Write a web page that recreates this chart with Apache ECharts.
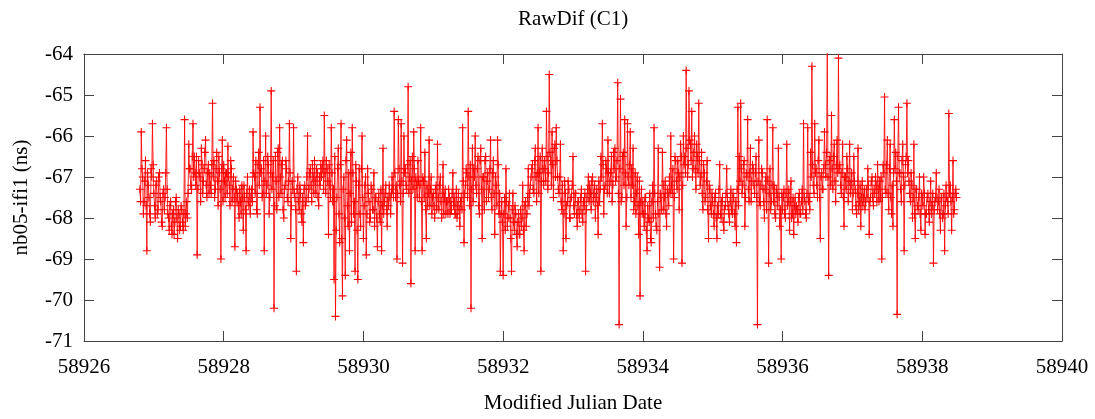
<!DOCTYPE html>
<html>
<head>
<meta charset="utf-8">
<script src="https://cdn.jsdelivr.net/npm/echarts@6/dist/echarts.min.js"></script>
<style>
html,body{margin:0;padding:0;background:#fff;}
#chart{width:1095px;height:419px;}
</style>
</head>
<body>
<div id="chart"></div>
<script>
const chartTitle = 'RawDif (C1)';
const xAxisName = 'Modified Julian Date';
const yAxisName = 'nb05-ifi1 (ns)';
const xMin = 58926, xMax = 58940, xInterval = 2;
const yMin = -71, yMax = -64, yInterval = 1;
const mjdStart = 58926.80;
const mjdStep = 0.02;
// samples at mjdStart + i*mjdStep
const rawDifA = [
-67.3,-65.9,-67.0,-67.6,-66.6,-68.8,-67.2,-67.9,-66.8,-65.7,
-67.4,-68.0,-67.1,-67.8,-66.9,-67.6,-68.2,-67.3,-67.5,-65.8,
-67.9,-68.3,-67.6,-68.4,-67.8,-68.1,-67.5,-68.5,-67.9,-68.2,
-67.8,-68.3,-65.6,-67.9,-68.0,-66.2,-66.8,-67.3,-65.7,-66.5,
-67.2,-68.9,-66.6,-67.0,-66.3,-67.4,-66.8,-66.1,-67.5,-66.7,
-66.9,-67.4,-65.2,-66.6,-67.3,-66.4,-67.7,-66.9,-69.0,-66.1,
-66.7,-67.5,-66.9,-66.25,-67.2,-66.6,-67.6,-67.0,-68.7,-67.3,
-67.4,-68.0,-67.6,-67.2,-68.3,-67.5,-68.8,-67.0,-67.7,-67.9,
-67.3,-65.9,-67.0,-66.6,-67.9,-66.4,-65.3,-66.8,-67.4,-68.8,
-66.0,-67.2,-66.7,-67.5,-64.9,-67.0,-70.2,-66.5,-67.8,-66.3,
-65.8,-67.4,-66.6,-68.0,-67.2,-66.8,-67.6,-65.7,-68.5,-67.1,
-65.8,-67.5,-69.3,-67.0,-67.8,-67.4,-68.1,-68.6,-67.2,-67.6,
-66.0,-67.3,-66.8,-67.6,-67.0,-66.6,-67.4,-66.9,-67.7,-67.2,
-67.0,-66.6,-65.5,-67.4,-66.8,-68.4,-67.2,-65.8,-67.6,-69.5,
-70.4,-67.5,-66.3,-68.6,-65.7,-69.9,-67.0,-69.4,-66.1,-68.2,
-68.8,-66.4,-65.8,-67.9,-69.3,-67.1,-69.5,-66.8,-68.2,-66.0,
-68.5,-67.2,-68.9,-66.8,-67.6,-68.0,-67.3,-67.8,-68.2,-67.5,
-68.7,-67.4,-68.1,-68.8,-66.3,-67.6,-67.2,-68.2,-67.7,-67.5,
-67.4,-67.3,-65.4,-67.5,-69.0,-65.6,-67.2,-65.7,-69.1,-66.0,
-66.8,-67.3,-64.8,-67.0,-69.6,-66.5,-65.9,-68.8,-67.2,-66.6,
-67.5,-65.8,-68.8,-67.1,-66.4,-68.5,-67.7,-66.1,-67.3,-67.9,
-67.4,-68.0,-67.2,-66.2,-67.8,-67.0,-68.0,-66.7,-67.5,-67.9,
-67.6,-67.3,-67.9,-67.8,-66.9,-67.5,-67.9,-68.0,-67.4,-68.2,
-67.5,-65.8,-68.6,-67.2,-66.9,-65.4,-67.7,-70.2,-66.3,-66.8,
-66.0,-67.4,-66.5,-67.9,-66.3,-68.5,-67.0,-66.6,-67.6,-66.9,
-67.3,-66.1,-67.8,-66.6,-68.4,-67.2,-66.1,-67.9,-69.3,-67.6,
-69.4,-67.5,-66.8,-68.2,-67.7,-68.0,-69.3,-67.4,-68.3,-67.9,
-68.7,-67.9,-68.4,-68.2,-67.2,-68.8,-67.6,-67.9,-66.8,-67.4,
-67.0,-66.7,-67.4,-66.3,-67.6,-65.8,-66.9,-69.3,-66.3,-67.2,
-66.8,-65.4,-67.3,-64.5,-66.6,-65.9,-67.5,-66.2,-65.8,-67.0,
-67.4,-66.2,-67.8,-68.8,-67.1,-68.5,-67.6,-67.3,-68.0,-67.5,
-66.5,-67.9,-67.4,-68.2,-67.6,-67.8,-67.3,-68.1,-67.7,-69.3,
-67.5,-67.0,-67.2,-67.8,-67.0,-67.4,-68.0,-67.3,-68.4,-67.6,
-66.5,-65.7,-67.9,-67.2,-66.8,-66.1,-67.4,-66.9,-67.6,-66.4,
-66.3,-67.0,-64.7,-70.6,-65.1,-67.5,-66.4,-65.6,-68.2,-65.7,
-67.2,-65.9,-66.8,-66.3,-67.6,-67.9,-67.0,-68.4,-69.9,-67.3,
-67.6,-68.2,-67.5,-68.8,-68.0,-67.4,-68.6,-67.2,-65.8,-67.9,
-68.3,-66.3,-69.2,-67.5,-66.4,-67.8,-67.1,-68.2,-67.4,-67.0,
-66.0,-67.4,-69.0,-66.5,-67.1,-66.6,-67.8,-66.2,-69.1,-66.0,
-66.5,-64.4,-67.0,-64.9,-66.2,-65.4,-66.8,-66.0,-67.3,-66.5,
-65.2,-67.2,-66.4,-67.8,-66.9,-67.5,-66.6,-68.5,-67.3,-67.9,
-67.6,-68.2,-67.4,-68.5,-67.9,-66.7,-68.0,-67.5,-68.3,-67.7,
-66.8,-67.7,-68.1,-67.3,-67.9,-67.5,-68.2,-68.6,-65.3,-66.5,
-65.2,-67.4,-66.7,-68.2,-66.9,-65.6,-67.6,-66.3,-67.1,-66.8,
-67.4,-66.5,-70.6,-66.1,-67.7,-66.8,-67.3,-68.0,-67.0,-65.6,
-69.1,-66.8,-67.6,-65.8,-67.2,-68.0,-67.4,-66.3,-68.2,-69.0,
-67.8,-67.3,-68.0,-66.2,-67.6,-68.3,-67.1,-67.9,-68.4,-67.5,
-67.7,-68.1,-67.4,-67.9,-67.3,-65.7,-67.6,-68.0,-65.8,-67.5,
-66.4,-64.3,-67.2,-65.7,-66.8,-67.5,-66.1,-68.5,-66.9,-67.3,
-65.9,-67.0,-63.95,-69.4,-66.5,-65.5,-67.3,-66.2,-67.6,-66.1,
-64.1,-66.7,-67.4,-66.2,-68.2,-67.0,-66.5,-67.6,-66.2,-67.2,
-67.8,-66.5,-67.3,-67.9,-66.3,-67.6,-68.2,-67.1,-67.5,-67.8,
-67.3,-66.8,-68.4,-67.5,-67.0,-67.7,-67.4,-67.2,-66.7,-67.6,
-67.5,-69.0,-66.7,-65.05,-67.4,-66.1,-67.8,-66.2,-67.9,-68.2,
-65.6,-66.4,-70.35,-65.3,-66.9,-67.6,-66.2,-68.8,-66.7,-65.2,
-66.6,-67.4,-66.9,-68.0,-66.2,-68.5,-67.3,-67.8,-67.0,-68.3,
-67.5,-67.0,-68.4,-67.9,-67.4,-68.1,-67.1,-67.7,-69.1,-67.6,
-66.9,-67.8,-67.3,-68.3,-67.5,-67.9,-68.8,-67.2,-67.6,-65.45,
-67.2,-68.3,-66.6,-67.8,-67.3
];
// samples at mjdStart + i*mjdStep + mjdStep/2
const rawDifB = [
-67.6,-66.8,-67.9,-67.1,-67.7,-66.9,-67.5,-68.1,-67.0,-66.7,
-67.7,-67.2,-67.9,-67.0,-67.5,-68.1,-67.4,-67.8,-66.9,-67.3,
-68.0,-67.7,-68.2,-67.9,-68.4,-67.6,-68.0,-67.8,-68.3,-67.7,
-68.1,-67.9,-68.2,-67.6,-67.4,-66.8,-67.2,-66.5,-67.0,-66.9,
-66.5,-67.3,-66.9,-67.6,-66.7,-67.1,-66.4,-67.2,-66.9,-67.4,
-67.2,-66.7,-67.0,-67.5,-66.8,-67.1,-66.5,-67.3,-66.8,-67.6,
-67.1,-66.9,-67.4,-67.0,-67.7,-66.8,-67.3,-67.5,-67.1,-67.6,
-67.7,-67.3,-67.9,-67.5,-67.2,-67.8,-67.4,-67.6,-67.3,-67.5,
-67.6,-66.9,-67.4,-67.8,-66.7,-67.2,-66.9,-67.5,-66.6,-67.1,
-67.4,-66.5,-67.9,-66.9,-67.3,-66.6,-67.7,-67.1,-66.4,-67.5,
-67.0,-66.7,-67.8,-67.3,-66.6,-67.5,-67.1,-66.9,-67.7,-67.3,
-67.4,-67.8,-67.3,-67.6,-67.2,-67.9,-67.5,-67.3,-67.7,-67.0,
-67.5,-66.9,-67.2,-66.7,-67.4,-67.1,-66.8,-67.5,-67.0,-66.7,
-66.8,-67.3,-66.9,-66.6,-67.1,-66.7,-67.5,-66.9,-67.3,-66.5,
-68.3,-66.8,-67.9,-66.7,-68.5,-67.3,-68.0,-66.6,-67.7,-66.9,
-67.4,-68.1,-66.9,-67.6,-66.7,-68.3,-67.2,-67.9,-66.8,-67.5,
-67.7,-67.0,-67.9,-67.4,-68.1,-67.2,-67.8,-66.9,-67.5,-68.0,
-67.6,-67.9,-67.3,-67.7,-67.9,-67.4,-67.8,-67.5,-67.2,-67.9,
-67.0,-67.5,-66.9,-67.2,-67.4,-66.8,-67.6,-67.1,-67.4,-66.9,
-67.2,-66.7,-67.4,-66.6,-67.1,-67.3,-66.8,-67.0,-67.5,-67.1,
-67.2,-67.6,-67.0,-67.5,-67.8,-67.2,-67.4,-67.7,-67.0,-67.5,
-67.7,-67.3,-67.8,-67.5,-67.2,-67.6,-67.4,-67.9,-67.3,-67.6,
-67.9,-67.5,-67.6,-67.4,-67.7,-67.9,-67.3,-67.7,-67.8,-67.6,
-67.8,-67.1,-67.4,-66.8,-67.5,-67.0,-66.7,-67.3,-67.6,-67.0,
-67.2,-66.8,-67.7,-66.6,-67.3,-67.0,-67.8,-66.5,-67.1,-67.5,
-66.8,-67.5,-66.9,-67.4,-67.0,-67.7,-66.7,-67.4,-67.9,-68.1,
-67.9,-68.3,-67.6,-68.0,-67.4,-68.5,-67.8,-68.1,-67.7,-68.4,
-68.1,-68.4,-67.8,-68.0,-68.3,-67.7,-68.2,-67.5,-67.7,-67.2,
-66.8,-67.3,-66.6,-67.0,-66.9,-67.4,-66.5,-67.1,-66.8,-66.6,
-67.1,-66.5,-66.9,-66.4,-67.2,-66.7,-66.3,-67.0,-66.6,-67.3,
-67.0,-67.6,-67.2,-67.9,-67.4,-67.7,-67.1,-68.0,-67.5,-67.2,
-67.7,-67.4,-67.9,-67.6,-68.0,-67.5,-67.9,-67.6,-67.4,-67.8,
-67.3,-67.6,-67.4,-67.1,-67.6,-67.2,-67.5,-67.7,-67.1,-67.3,
-67.0,-66.7,-67.3,-66.6,-67.4,-66.9,-67.1,-66.5,-67.2,-66.8,
-67.1,-66.6,-67.4,-66.8,-67.6,-66.5,-67.2,-66.9,-67.5,-67.0,
-66.7,-67.5,-67.2,-67.8,-66.9,-67.4,-67.7,-67.1,-67.6,-67.9,
-67.9,-67.5,-68.3,-67.7,-68.1,-68.5,-67.6,-68.0,-67.4,-68.2,
-67.6,-67.9,-67.4,-67.8,-67.2,-67.5,-67.9,-67.3,-67.7,-67.4,
-67.2,-66.8,-67.5,-66.6,-67.3,-66.9,-67.0,-66.5,-67.2,-66.7,
-66.9,-66.3,-66.7,-66.1,-66.6,-67.0,-66.4,-66.8,-66.2,-66.9,
-66.6,-67.0,-67.4,-66.7,-67.6,-67.1,-67.8,-67.2,-67.7,-67.4,
-67.9,-67.5,-68.0,-67.7,-67.3,-67.9,-67.6,-68.1,-67.8,-67.4,
-67.5,-67.9,-67.6,-67.8,-67.4,-67.9,-67.6,-67.3,-67.7,-67.1,
-66.8,-67.2,-66.6,-67.5,-67.0,-67.3,-66.9,-67.6,-66.7,-67.2,
-66.9,-67.5,-67.1,-67.6,-67.2,-66.9,-67.6,-67.3,-67.8,-67.1,
-67.4,-67.8,-67.2,-67.6,-67.9,-67.3,-67.7,-67.5,-67.8,-67.4,
-67.5,-67.9,-67.4,-67.7,-67.3,-67.6,-68.0,-67.5,-67.7,-67.9,
-67.8,-67.5,-67.9,-67.6,-67.8,-67.5,-67.9,-67.4,-67.6,-67.8,
-67.0,-66.7,-67.4,-66.9,-67.2,-66.6,-67.5,-67.0,-67.3,-66.8,
-66.7,-66.4,-67.0,-66.6,-67.2,-66.8,-66.5,-67.1,-66.7,-66.9,
-66.8,-67.2,-66.9,-67.5,-67.0,-67.3,-66.8,-67.1,-67.4,-66.9,
-67.4,-67.1,-67.7,-67.4,-67.8,-67.2,-67.5,-67.7,-67.3,-67.6,
-67.5,-67.2,-67.6,-67.1,-67.5,-67.3,-67.0,-67.6,-67.3,-67.1,
-67.0,-67.5,-66.9,-67.3,-66.7,-67.4,-66.8,-67.5,-67.2,-66.9,
-66.8,-67.1,-66.5,-66.9,-67.3,-66.6,-67.0,-67.2,-66.5,-66.9,
-67.1,-67.6,-67.2,-67.5,-67.9,-67.3,-67.7,-67.5,-67.9,-67.4,
-67.7,-67.4,-67.9,-67.5,-67.8,-67.6,-67.9,-67.4,-67.8,-67.5,
-67.5,-67.6,-67.9,-67.5,-68.0,-67.4,-67.7,-67.5,-67.9,-67.4,
-67.6,-67.5,-67.9,-67.4,-67.5
];

const seriesData = [];
rawDifA.forEach((v, i) => {
  const t = mjdStart + i * mjdStep;
  seriesData.push([+t.toFixed(4), v]);
  if (i < rawDifB.length) seriesData.push([+(t + mjdStep / 2).toFixed(4), rawDifB[i]]);
});

const FONT = '"Liberation Serif", "DejaVu Serif", serif';
const AX = '#444';
const plusPath = 'path://M0,3.9H9V5.1H0ZM3.9,0H5.1V9H3.9Z';

function xAx(pos, main) {
  return {
    type: 'value', position: pos, min: xMin, max: xMax, interval: xInterval,
    name: main ? xAxisName : '', nameLocation: 'middle', nameGap: 52,
    nameTextStyle: {fontFamily: FONT, fontSize: 21, color: '#000'},
    axisLine: {show: true, onZero: false, lineStyle: {color: AX, width: 1}},
    axisTick: {show: true, inside: true, length: 10, lineStyle: {color: AX, width: 1}},
    axisLabel: {show: main, fontFamily: FONT, fontSize: 21, color: '#000', margin: 16,
      formatter: v => String(v)},
    splitLine: {show: false}
  };
}
function yAx(pos, main) {
  return {
    type: 'value', position: pos, min: yMin, max: yMax, interval: yInterval,
    name: main ? yAxisName : '', nameLocation: 'middle', nameGap: 52,
    nameTextStyle: {fontFamily: FONT, fontSize: 21, color: '#000'},
    axisLine: {show: true, onZero: false, lineStyle: {color: AX, width: 1}},
    axisTick: {show: true, inside: true, length: 10, lineStyle: {color: AX, width: 1}},
    axisLabel: {show: main, fontFamily: FONT, fontSize: 21, color: '#000', margin: 11,
      formatter: v => String(v)},
    splitLine: {show: false}
  };
}

const chart = echarts.init(document.getElementById('chart'), null, {renderer: 'canvas'});
chart.setOption({
  animation: false,
  backgroundColor: '#fff',
  title: {
    text: chartTitle, left: 513, top: 4,
    textStyle: {fontFamily: FONT, fontSize: 21, fontWeight: 'normal', color: '#000'}
  },
  grid: {left: 84, right: 33, top: 54, bottom: 78, containLabel: false},
  xAxis: [xAx('bottom', true), xAx('top', false)],
  yAxis: [yAx('left', true), yAx('right', false)],
  series: [{
    type: 'line',
    xAxisIndex: 0, yAxisIndex: 0,
    data: seriesData,
    showSymbol: false,
    symbol: 'none',
    sampling: null,
    lineStyle: {color: 'rgba(255,0,0,0.85)', width: 1},
    emphasis: {disabled: true},
    silent: true,
    z: 2
  }, {
    type: 'scatter',
    xAxisIndex: 0, yAxisIndex: 0,
    data: seriesData,
    symbol: plusPath,
    symbolSize: 8,
    large: false,
    itemStyle: {color: '#ff0000', opacity: 1},
    emphasis: {disabled: true},
    silent: true,
    z: 3
  }]
});
</script>
</body>
</html>
